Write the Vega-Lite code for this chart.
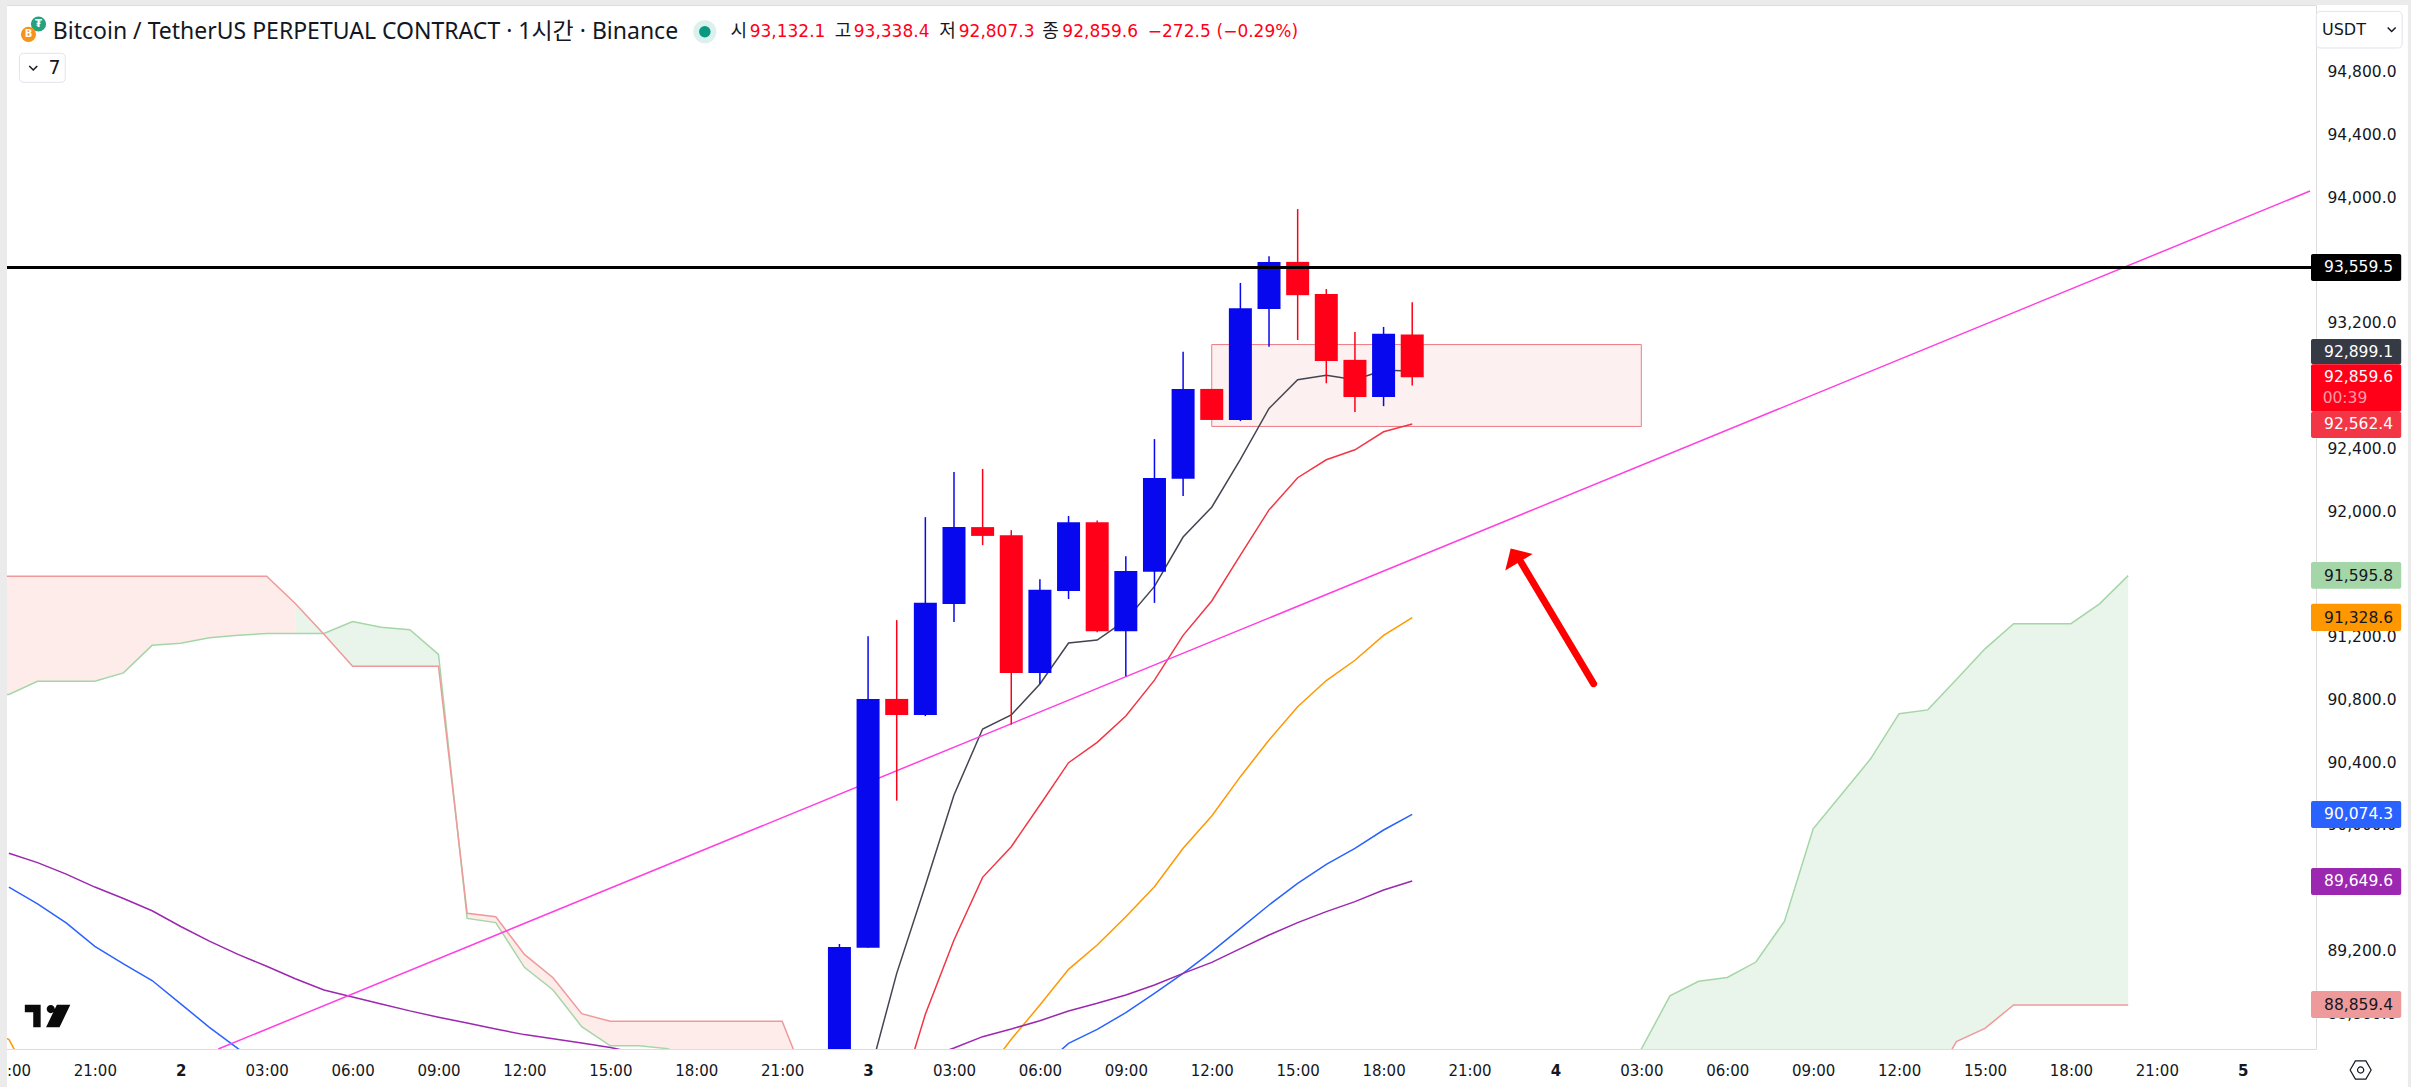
{
  "$schema": "https://vega.github.io/schema/vega-lite/v6.json",
  "width": 2314,
  "height": 1044,
  "padding": {"left": 2, "top": 5, "right": 95, "bottom": 38},
  "autosize": "none",
  "background": "#ffffff",
  "resolve": {"scale": {"color": "independent", "size": "independent", "strokeWidth": "independent"}},
  "datasets": {
    "bands": [
      {"x0": "2025-12-01T17:00:00Z", "x1": "2025-12-01T17:56:00Z", "top": 95290, "bottom": 88300},
      {"x0": "2025-12-01T17:00:00Z", "x1": "2025-12-05T07:00:00Z", "top": 95290, "bottom": 95232.5},
      {"x0": "2025-12-05T05:46:00Z", "x1": "2025-12-05T07:00:00Z", "top": 95290, "bottom": 88300}
    ],
    "cloud": [
      {"time": "2025-12-01T17:00:00Z", "a": 90837.8, "b": 91591.5, "seg": "r1", "side": "red"},
      {"time": "2025-12-01T18:00:00Z", "a": 90837.8, "b": 91591.5, "seg": "r1", "side": "red"},
      {"time": "2025-12-01T19:00:00Z", "a": 90922.3, "b": 91591.5, "seg": "r1", "side": "red"},
      {"time": "2025-12-01T20:00:00Z", "a": 90922.3, "b": 91591.5, "seg": "r1", "side": "red"},
      {"time": "2025-12-01T21:00:00Z", "a": 90922.3, "b": 91591.5, "seg": "r1", "side": "red"},
      {"time": "2025-12-01T22:00:00Z", "a": 90975.7, "b": 91591.5, "seg": "r1", "side": "red"},
      {"time": "2025-12-01T23:00:00Z", "a": 91151.3, "b": 91591.5, "seg": "r1", "side": "red"},
      {"time": "2025-12-02T00:00:00Z", "a": 91164.6, "b": 91591.5, "seg": "r1", "side": "red"},
      {"time": "2025-12-02T01:00:00Z", "a": 91200.2, "b": 91591.5, "seg": "r1", "side": "red"},
      {"time": "2025-12-02T02:00:00Z", "a": 91215.8, "b": 91591.5, "seg": "r1", "side": "red"},
      {"time": "2025-12-02T03:00:00Z", "a": 91226.9, "b": 91591.5, "seg": "r1", "side": "red"},
      {"time": "2025-12-02T04:00:00Z", "a": 91226.9, "b": 91418, "seg": "r1", "side": "red"},
      {"time": "2025-12-02T04:00:00Z", "a": 91226.9, "b": 91418, "seg": "g1", "side": "green"},
      {"time": "2025-12-02T05:00:00Z", "a": 91226.9, "b": 91222.5, "seg": "g1", "side": "green"},
      {"time": "2025-12-02T06:00:00Z", "a": 91302.5, "b": 91017.9, "seg": "g1", "side": "green"},
      {"time": "2025-12-02T07:00:00Z", "a": 91266.9, "b": 91017.9, "seg": "g1", "side": "green"},
      {"time": "2025-12-02T08:00:00Z", "a": 91251.4, "b": 91017.9, "seg": "g1", "side": "green"},
      {"time": "2025-12-02T09:00:00Z", "a": 91093.5, "b": 91017.9, "seg": "g1", "side": "green"},
      {"time": "2025-12-02T10:00:00Z", "a": 89410.6, "b": 89444, "seg": "r2", "side": "red"},
      {"time": "2025-12-02T11:00:00Z", "a": 89384, "b": 89421.8, "seg": "r2", "side": "red"},
      {"time": "2025-12-02T12:00:00Z", "a": 89099.4, "b": 89181.7, "seg": "r2", "side": "red"},
      {"time": "2025-12-02T13:00:00Z", "a": 88954.9, "b": 89032.7, "seg": "r2", "side": "red"},
      {"time": "2025-12-02T14:00:00Z", "a": 88721.4, "b": 88803.8, "seg": "r2", "side": "red"},
      {"time": "2025-12-02T15:00:00Z", "a": 88599, "b": 88754.9, "seg": "r2", "side": "red"},
      {"time": "2025-12-02T16:00:00Z", "a": 88599, "b": 88754.9, "seg": "r2", "side": "red"},
      {"time": "2025-12-02T17:00:00Z", "a": 88581, "b": 88754.9, "seg": "r2", "side": "red"},
      {"time": "2025-12-02T18:00:00Z", "a": 88500, "b": 88754.9, "seg": "r2", "side": "red"},
      {"time": "2025-12-02T19:00:00Z", "a": 88450, "b": 88754.9, "seg": "r2", "side": "red"},
      {"time": "2025-12-02T20:00:00Z", "a": 88400, "b": 88754.9, "seg": "r2", "side": "red"},
      {"time": "2025-12-02T21:00:00Z", "a": 88350, "b": 88754.9, "seg": "r2", "side": "red"},
      {"time": "2025-12-02T22:00:00Z", "a": 88300, "b": 88300, "seg": "r2", "side": "red"},
      {"time": "2025-12-04T02:00:00Z", "a": 88350, "b": 88000, "seg": "g2", "side": "green"},
      {"time": "2025-12-04T03:00:00Z", "a": 88578.6, "b": 88000, "seg": "g2", "side": "green"},
      {"time": "2025-12-04T04:00:00Z", "a": 88917, "b": 88050, "seg": "g2", "side": "green"},
      {"time": "2025-12-04T05:00:00Z", "a": 89010.5, "b": 88050, "seg": "g2", "side": "green"},
      {"time": "2025-12-04T06:00:00Z", "a": 89034.9, "b": 88050, "seg": "g2", "side": "green"},
      {"time": "2025-12-04T07:00:00Z", "a": 89132.8, "b": 88100, "seg": "g2", "side": "green"},
      {"time": "2025-12-04T08:00:00Z", "a": 89392.9, "b": 88100, "seg": "g2", "side": "green"},
      {"time": "2025-12-04T09:00:00Z", "a": 89982, "b": 88100, "seg": "g2", "side": "green"},
      {"time": "2025-12-04T10:00:00Z", "a": 90204.3, "b": 88100, "seg": "g2", "side": "green"},
      {"time": "2025-12-04T11:00:00Z", "a": 90426.6, "b": 88150, "seg": "g2", "side": "green"},
      {"time": "2025-12-04T12:00:00Z", "a": 90715.6, "b": 88200, "seg": "g2", "side": "green"},
      {"time": "2025-12-04T13:00:00Z", "a": 90740, "b": 88300, "seg": "g2", "side": "green"},
      {"time": "2025-12-04T14:00:00Z", "a": 90933.4, "b": 88626, "seg": "g2", "side": "green"},
      {"time": "2025-12-04T15:00:00Z", "a": 91129, "b": 88710.3, "seg": "g2", "side": "green"},
      {"time": "2025-12-04T16:00:00Z", "a": 91289.2, "b": 88859.4, "seg": "g2", "side": "green"},
      {"time": "2025-12-04T17:00:00Z", "a": 91289.2, "b": 88859.4, "seg": "g2", "side": "green"},
      {"time": "2025-12-04T18:00:00Z", "a": 91289.2, "b": 88859.4, "seg": "g2", "side": "green"},
      {"time": "2025-12-04T19:00:00Z", "a": 91415.9, "b": 88859.4, "seg": "g2", "side": "green"},
      {"time": "2025-12-04T20:00:00Z", "a": 91595.8, "b": 88859.4, "seg": "g2", "side": "green"}
    ],
    "spanLines": [
      {"time": "2025-12-01T17:00:00Z", "price": 90837.8, "series": "spanA", "part": "a1"},
      {"time": "2025-12-01T18:00:00Z", "price": 90837.8, "series": "spanA", "part": "a1"},
      {"time": "2025-12-01T19:00:00Z", "price": 90922.3, "series": "spanA", "part": "a1"},
      {"time": "2025-12-01T21:00:00Z", "price": 90922.3, "series": "spanA", "part": "a1"},
      {"time": "2025-12-01T22:00:00Z", "price": 90975.7, "series": "spanA", "part": "a1"},
      {"time": "2025-12-01T23:00:00Z", "price": 91151.3, "series": "spanA", "part": "a1"},
      {"time": "2025-12-02T00:00:00Z", "price": 91164.6, "series": "spanA", "part": "a1"},
      {"time": "2025-12-02T01:00:00Z", "price": 91200.2, "series": "spanA", "part": "a1"},
      {"time": "2025-12-02T02:00:00Z", "price": 91215.8, "series": "spanA", "part": "a1"},
      {"time": "2025-12-02T03:00:00Z", "price": 91226.9, "series": "spanA", "part": "a1"},
      {"time": "2025-12-02T05:00:00Z", "price": 91226.9, "series": "spanA", "part": "a1"},
      {"time": "2025-12-02T06:00:00Z", "price": 91302.5, "series": "spanA", "part": "a1"},
      {"time": "2025-12-02T07:00:00Z", "price": 91266.9, "series": "spanA", "part": "a1"},
      {"time": "2025-12-02T08:00:00Z", "price": 91251.4, "series": "spanA", "part": "a1"},
      {"time": "2025-12-02T09:00:00Z", "price": 91093.5, "series": "spanA", "part": "a1"},
      {"time": "2025-12-02T10:00:00Z", "price": 89410.6, "series": "spanA", "part": "a1"},
      {"time": "2025-12-02T11:00:00Z", "price": 89384, "series": "spanA", "part": "a1"},
      {"time": "2025-12-02T12:00:00Z", "price": 89099.4, "series": "spanA", "part": "a1"},
      {"time": "2025-12-02T13:00:00Z", "price": 88954.9, "series": "spanA", "part": "a1"},
      {"time": "2025-12-02T14:00:00Z", "price": 88721.4, "series": "spanA", "part": "a1"},
      {"time": "2025-12-02T15:00:00Z", "price": 88599, "series": "spanA", "part": "a1"},
      {"time": "2025-12-02T16:00:00Z", "price": 88599, "series": "spanA", "part": "a1"},
      {"time": "2025-12-02T17:00:00Z", "price": 88581, "series": "spanA", "part": "a1"},
      {"time": "2025-12-02T18:00:00Z", "price": 88500, "series": "spanA", "part": "a1"},
      {"time": "2025-12-04T02:00:00Z", "price": 88350, "series": "spanA", "part": "a2"},
      {"time": "2025-12-04T03:00:00Z", "price": 88578.6, "series": "spanA", "part": "a2"},
      {"time": "2025-12-04T04:00:00Z", "price": 88917, "series": "spanA", "part": "a2"},
      {"time": "2025-12-04T05:00:00Z", "price": 89010.5, "series": "spanA", "part": "a2"},
      {"time": "2025-12-04T06:00:00Z", "price": 89034.9, "series": "spanA", "part": "a2"},
      {"time": "2025-12-04T07:00:00Z", "price": 89132.8, "series": "spanA", "part": "a2"},
      {"time": "2025-12-04T08:00:00Z", "price": 89392.9, "series": "spanA", "part": "a2"},
      {"time": "2025-12-04T09:00:00Z", "price": 89982, "series": "spanA", "part": "a2"},
      {"time": "2025-12-04T10:00:00Z", "price": 90204.3, "series": "spanA", "part": "a2"},
      {"time": "2025-12-04T11:00:00Z", "price": 90426.6, "series": "spanA", "part": "a2"},
      {"time": "2025-12-04T12:00:00Z", "price": 90715.6, "series": "spanA", "part": "a2"},
      {"time": "2025-12-04T13:00:00Z", "price": 90740, "series": "spanA", "part": "a2"},
      {"time": "2025-12-04T14:00:00Z", "price": 90933.4, "series": "spanA", "part": "a2"},
      {"time": "2025-12-04T15:00:00Z", "price": 91129, "series": "spanA", "part": "a2"},
      {"time": "2025-12-04T16:00:00Z", "price": 91289.2, "series": "spanA", "part": "a2"},
      {"time": "2025-12-04T18:00:00Z", "price": 91289.2, "series": "spanA", "part": "a2"},
      {"time": "2025-12-04T19:00:00Z", "price": 91415.9, "series": "spanA", "part": "a2"},
      {"time": "2025-12-04T20:00:00Z", "price": 91595.8, "series": "spanA", "part": "a2"},
      {"time": "2025-12-01T17:00:00Z", "price": 91591.5, "series": "spanB", "part": "b1"},
      {"time": "2025-12-02T03:00:00Z", "price": 91591.5, "series": "spanB", "part": "b1"},
      {"time": "2025-12-02T04:00:00Z", "price": 91418, "series": "spanB", "part": "b1"},
      {"time": "2025-12-02T05:00:00Z", "price": 91222.5, "series": "spanB", "part": "b1"},
      {"time": "2025-12-02T06:00:00Z", "price": 91017.9, "series": "spanB", "part": "b1"},
      {"time": "2025-12-02T09:00:00Z", "price": 91017.9, "series": "spanB", "part": "b1"},
      {"time": "2025-12-02T10:00:00Z", "price": 89444, "series": "spanB", "part": "b1"},
      {"time": "2025-12-02T11:00:00Z", "price": 89421.8, "series": "spanB", "part": "b1"},
      {"time": "2025-12-02T12:00:00Z", "price": 89181.7, "series": "spanB", "part": "b1"},
      {"time": "2025-12-02T13:00:00Z", "price": 89032.7, "series": "spanB", "part": "b1"},
      {"time": "2025-12-02T14:00:00Z", "price": 88803.8, "series": "spanB", "part": "b1"},
      {"time": "2025-12-02T15:00:00Z", "price": 88754.9, "series": "spanB", "part": "b1"},
      {"time": "2025-12-02T21:00:00Z", "price": 88754.9, "series": "spanB", "part": "b1"},
      {"time": "2025-12-02T22:00:00Z", "price": 88300, "series": "spanB", "part": "b1"},
      {"time": "2025-12-04T13:00:00Z", "price": 88300, "series": "spanB", "part": "b2"},
      {"time": "2025-12-04T14:00:00Z", "price": 88626, "series": "spanB", "part": "b2"},
      {"time": "2025-12-04T15:00:00Z", "price": 88710.3, "series": "spanB", "part": "b2"},
      {"time": "2025-12-04T16:00:00Z", "price": 88859.4, "series": "spanB", "part": "b2"},
      {"time": "2025-12-04T20:00:00Z", "price": 88859.4, "series": "spanB", "part": "b2"}
    ],
    "maLines": [
      {"time": "2025-12-03T00:00:00Z", "price": 88380, "series": "ma7"},
      {"time": "2025-12-03T01:00:00Z", "price": 89060.8, "series": "ma7"},
      {"time": "2025-12-03T02:00:00Z", "price": 89620, "series": "ma7"},
      {"time": "2025-12-03T03:00:00Z", "price": 90197.4, "series": "ma7"},
      {"time": "2025-12-03T04:00:00Z", "price": 90618.1, "series": "ma7"},
      {"time": "2025-12-03T05:00:00Z", "price": 90707.3, "series": "ma7"},
      {"time": "2025-12-03T06:00:00Z", "price": 90904.9, "series": "ma7"},
      {"time": "2025-12-03T07:00:00Z", "price": 91165.9, "series": "ma7"},
      {"time": "2025-12-03T08:00:00Z", "price": 91185.4, "series": "ma7"},
      {"time": "2025-12-03T09:00:00Z", "price": 91312, "series": "ma7"},
      {"time": "2025-12-03T10:00:00Z", "price": 91527, "series": "ma7"},
      {"time": "2025-12-03T11:00:00Z", "price": 91841.6, "series": "ma7"},
      {"time": "2025-12-03T12:00:00Z", "price": 92031.8, "series": "ma7"},
      {"time": "2025-12-03T13:00:00Z", "price": 92336.7, "series": "ma7"},
      {"time": "2025-12-03T14:00:00Z", "price": 92661.1, "series": "ma7"},
      {"time": "2025-12-03T15:00:00Z", "price": 92844, "series": "ma7"},
      {"time": "2025-12-03T16:00:00Z", "price": 92873.3, "series": "ma7"},
      {"time": "2025-12-03T17:00:00Z", "price": 92844, "series": "ma7"},
      {"time": "2025-12-03T18:00:00Z", "price": 92905, "series": "ma7"},
      {"time": "2025-12-03T19:00:00Z", "price": 92899.1, "series": "ma7"},
      {"time": "2025-12-03T01:00:00Z", "price": 88200, "series": "ma25"},
      {"time": "2025-12-03T02:00:00Z", "price": 88800, "series": "ma25"},
      {"time": "2025-12-03T03:00:00Z", "price": 89273.3, "series": "ma25"},
      {"time": "2025-12-03T04:00:00Z", "price": 89672.7, "series": "ma25"},
      {"time": "2025-12-03T05:00:00Z", "price": 89868.2, "series": "ma25"},
      {"time": "2025-12-03T06:00:00Z", "price": 90133.7, "series": "ma25"},
      {"time": "2025-12-03T07:00:00Z", "price": 90403.5, "series": "ma25"},
      {"time": "2025-12-03T08:00:00Z", "price": 90533.1, "series": "ma25"},
      {"time": "2025-12-03T09:00:00Z", "price": 90701, "series": "ma25"},
      {"time": "2025-12-03T10:00:00Z", "price": 90929.4, "series": "ma25"},
      {"time": "2025-12-03T11:00:00Z", "price": 91214.7, "series": "ma25"},
      {"time": "2025-12-03T12:00:00Z", "price": 91434.2, "series": "ma25"},
      {"time": "2025-12-03T13:00:00Z", "price": 91726.9, "series": "ma25"},
      {"time": "2025-12-03T14:00:00Z", "price": 92014.7, "series": "ma25"},
      {"time": "2025-12-03T15:00:00Z", "price": 92219.6, "series": "ma25"},
      {"time": "2025-12-03T16:00:00Z", "price": 92334.2, "series": "ma25"},
      {"time": "2025-12-03T17:00:00Z", "price": 92397.7, "series": "ma25"},
      {"time": "2025-12-03T18:00:00Z", "price": 92512.3, "series": "ma25"},
      {"time": "2025-12-03T19:00:00Z", "price": 92562.4, "series": "ma25"},
      {"time": "2025-12-01T17:00:00Z", "price": 88700, "series": "ma50"},
      {"time": "2025-12-01T18:00:00Z", "price": 88640, "series": "ma50"},
      {"time": "2025-12-01T19:00:00Z", "price": 88300, "series": "ma50"},
      {"time": "2025-12-03T04:00:00Z", "price": 88400, "series": "ma50"},
      {"time": "2025-12-03T05:00:00Z", "price": 88640.2, "series": "ma50"},
      {"time": "2025-12-03T06:00:00Z", "price": 88859, "series": "ma50"},
      {"time": "2025-12-03T07:00:00Z", "price": 89086.3, "series": "ma50"},
      {"time": "2025-12-03T08:00:00Z", "price": 89241.4, "series": "ma50"},
      {"time": "2025-12-03T09:00:00Z", "price": 89422, "series": "ma50"},
      {"time": "2025-12-03T10:00:00Z", "price": 89613.2, "series": "ma50"},
      {"time": "2025-12-03T11:00:00Z", "price": 89857.5, "series": "ma50"},
      {"time": "2025-12-03T12:00:00Z", "price": 90063.6, "series": "ma50"},
      {"time": "2025-12-03T13:00:00Z", "price": 90314.3, "series": "ma50"},
      {"time": "2025-12-03T14:00:00Z", "price": 90548, "series": "ma50"},
      {"time": "2025-12-03T15:00:00Z", "price": 90760.4, "series": "ma50"},
      {"time": "2025-12-03T16:00:00Z", "price": 90926.8, "series": "ma50"},
      {"time": "2025-12-03T17:00:00Z", "price": 91056.2, "series": "ma50"},
      {"time": "2025-12-03T18:00:00Z", "price": 91214.7, "series": "ma50"},
      {"time": "2025-12-03T19:00:00Z", "price": 91328.6, "series": "ma50"},
      {"time": "2025-12-01T18:00:00Z", "price": 89610.7, "series": "ma100"},
      {"time": "2025-12-01T19:00:00Z", "price": 89504, "series": "ma100"},
      {"time": "2025-12-01T20:00:00Z", "price": 89381.8, "series": "ma100"},
      {"time": "2025-12-01T21:00:00Z", "price": 89232.8, "series": "ma100"},
      {"time": "2025-12-01T22:00:00Z", "price": 89121.6, "series": "ma100"},
      {"time": "2025-12-01T23:00:00Z", "price": 89015, "series": "ma100"},
      {"time": "2025-12-02T00:00:00Z", "price": 88866, "series": "ma100"},
      {"time": "2025-12-02T01:00:00Z", "price": 88717, "series": "ma100"},
      {"time": "2025-12-02T02:00:00Z", "price": 88581, "series": "ma100"},
      {"time": "2025-12-02T03:00:00Z", "price": 88450, "series": "ma100"},
      {"time": "2025-12-03T06:00:00Z", "price": 88450, "series": "ma100"},
      {"time": "2025-12-03T07:00:00Z", "price": 88614.7, "series": "ma100"},
      {"time": "2025-12-03T08:00:00Z", "price": 88703.9, "series": "ma100"},
      {"time": "2025-12-03T09:00:00Z", "price": 88810.2, "series": "ma100"},
      {"time": "2025-12-03T10:00:00Z", "price": 88933.4, "series": "ma100"},
      {"time": "2025-12-03T11:00:00Z", "price": 89060.8, "series": "ma100"},
      {"time": "2025-12-03T12:00:00Z", "price": 89198.9, "series": "ma100"},
      {"time": "2025-12-03T13:00:00Z", "price": 89347.6, "series": "ma100"},
      {"time": "2025-12-03T14:00:00Z", "price": 89496.4, "series": "ma100"},
      {"time": "2025-12-03T15:00:00Z", "price": 89634.4, "series": "ma100"},
      {"time": "2025-12-03T16:00:00Z", "price": 89755.6, "series": "ma100"},
      {"time": "2025-12-03T17:00:00Z", "price": 89857.5, "series": "ma100"},
      {"time": "2025-12-03T18:00:00Z", "price": 89974.4, "series": "ma100"},
      {"time": "2025-12-03T19:00:00Z", "price": 90074.3, "series": "ma100"},
      {"time": "2025-12-01T18:00:00Z", "price": 89826.4, "series": "ma200"},
      {"time": "2025-12-01T19:00:00Z", "price": 89766.4, "series": "ma200"},
      {"time": "2025-12-01T20:00:00Z", "price": 89693, "series": "ma200"},
      {"time": "2025-12-01T21:00:00Z", "price": 89610.7, "series": "ma200"},
      {"time": "2025-12-01T22:00:00Z", "price": 89537.4, "series": "ma200"},
      {"time": "2025-12-01T23:00:00Z", "price": 89459.5, "series": "ma200"},
      {"time": "2025-12-02T00:00:00Z", "price": 89359.4, "series": "ma200"},
      {"time": "2025-12-02T01:00:00Z", "price": 89266, "series": "ma200"},
      {"time": "2025-12-02T02:00:00Z", "price": 89181.7, "series": "ma200"},
      {"time": "2025-12-02T03:00:00Z", "price": 89106, "series": "ma200"},
      {"time": "2025-12-02T04:00:00Z", "price": 89026, "series": "ma200"},
      {"time": "2025-12-02T05:00:00Z", "price": 88954.9, "series": "ma200"},
      {"time": "2025-12-02T06:00:00Z", "price": 88910.5, "series": "ma200"},
      {"time": "2025-12-02T07:00:00Z", "price": 88866, "series": "ma200"},
      {"time": "2025-12-02T08:00:00Z", "price": 88821.6, "series": "ma200"},
      {"time": "2025-12-02T09:00:00Z", "price": 88781.5, "series": "ma200"},
      {"time": "2025-12-02T10:00:00Z", "price": 88743.7, "series": "ma200"},
      {"time": "2025-12-02T11:00:00Z", "price": 88706, "series": "ma200"},
      {"time": "2025-12-02T12:00:00Z", "price": 88670.3, "series": "ma200"},
      {"time": "2025-12-02T13:00:00Z", "price": 88643.6, "series": "ma200"},
      {"time": "2025-12-02T14:00:00Z", "price": 88617, "series": "ma200"},
      {"time": "2025-12-02T15:00:00Z", "price": 88588, "series": "ma200"},
      {"time": "2025-12-02T16:00:00Z", "price": 88550, "series": "ma200"},
      {"time": "2025-12-02T20:00:00Z", "price": 88450, "series": "ma200"},
      {"time": "2025-12-03T00:00:00Z", "price": 88480, "series": "ma200"},
      {"time": "2025-12-03T02:00:00Z", "price": 88520, "series": "ma200"},
      {"time": "2025-12-03T03:00:00Z", "price": 88585, "series": "ma200"},
      {"time": "2025-12-03T04:00:00Z", "price": 88657.2, "series": "ma200"},
      {"time": "2025-12-03T05:00:00Z", "price": 88706, "series": "ma200"},
      {"time": "2025-12-03T06:00:00Z", "price": 88759.2, "series": "ma200"},
      {"time": "2025-12-03T07:00:00Z", "price": 88820.8, "series": "ma200"},
      {"time": "2025-12-03T08:00:00Z", "price": 88869.6, "series": "ma200"},
      {"time": "2025-12-03T09:00:00Z", "price": 88922.8, "series": "ma200"},
      {"time": "2025-12-03T10:00:00Z", "price": 88986.4, "series": "ma200"},
      {"time": "2025-12-03T11:00:00Z", "price": 89060.8, "series": "ma200"},
      {"time": "2025-12-03T12:00:00Z", "price": 89130.9, "series": "ma200"},
      {"time": "2025-12-03T13:00:00Z", "price": 89218, "series": "ma200"},
      {"time": "2025-12-03T14:00:00Z", "price": 89305.1, "series": "ma200"},
      {"time": "2025-12-03T15:00:00Z", "price": 89383.8, "series": "ma200"},
      {"time": "2025-12-03T16:00:00Z", "price": 89453.9, "series": "ma200"},
      {"time": "2025-12-03T17:00:00Z", "price": 89517.6, "series": "ma200"},
      {"time": "2025-12-03T18:00:00Z", "price": 89592, "series": "ma200"},
      {"time": "2025-12-03T19:00:00Z", "price": 89649.6, "series": "ma200"},
      {"time": "2025-12-02T01:18:36Z", "price": 88578.6, "series": "trend"},
      {"time": "2025-12-05T02:21:00Z", "price": 94047, "series": "trend"}
    ],
    "candles": [
      {"time": "2025-12-02T23:00:00Z", "open": 88300, "close": 89228.7, "high": 89247.8, "low": 88200, "dir": "up"},
      {"time": "2025-12-03T00:00:00Z", "open": 89224, "close": 90809.8, "high": 91209.8, "low": 89224, "dir": "up"},
      {"time": "2025-12-03T01:00:00Z", "open": 90809.8, "close": 90707.4, "high": 91312.2, "low": 90161.3, "dir": "down"},
      {"time": "2025-12-03T02:00:00Z", "open": 90707.4, "close": 91422, "high": 91968.4, "low": 90700, "dir": "up"},
      {"time": "2025-12-03T03:00:00Z", "open": 91414.7, "close": 91904.9, "high": 92256.2, "low": 91300, "dir": "up"},
      {"time": "2025-12-03T04:00:00Z", "open": 91904.9, "close": 91848.8, "high": 92275.7, "low": 91790.3, "dir": "down"},
      {"time": "2025-12-03T05:00:00Z", "open": 91853.7, "close": 90975.6, "high": 91885.4, "low": 90646.4, "dir": "down"},
      {"time": "2025-12-03T06:00:00Z", "open": 90975.6, "close": 91504.9, "high": 91573.2, "low": 90904.9, "dir": "up"},
      {"time": "2025-12-03T07:00:00Z", "open": 91497.6, "close": 91936.6, "high": 91975.7, "low": 91446.4, "dir": "up"},
      {"time": "2025-12-03T08:00:00Z", "open": 91936.6, "close": 91241.5, "high": 91946.4, "low": 91234, "dir": "down"},
      {"time": "2025-12-03T09:00:00Z", "open": 91241.5, "close": 91624.4, "high": 91719.6, "low": 90953.6, "dir": "up"},
      {"time": "2025-12-03T10:00:00Z", "open": 91619.6, "close": 92217.1, "high": 92465.9, "low": 91422, "dir": "up"},
      {"time": "2025-12-03T11:00:00Z", "open": 92212.3, "close": 92785.5, "high": 93022, "low": 92102.5, "dir": "up"},
      {"time": "2025-12-03T12:00:00Z", "open": 92785.5, "close": 92587.9, "high": 92785.5, "low": 92587.9, "dir": "down"},
      {"time": "2025-12-03T13:00:00Z", "open": 92587.9, "close": 93300.1, "high": 93461.1, "low": 92580.6, "dir": "up"},
      {"time": "2025-12-03T14:00:00Z", "open": 93295.2, "close": 93595.2, "high": 93631.8, "low": 93053.8, "dir": "up"},
      {"time": "2025-12-03T15:00:00Z", "open": 93595.2, "close": 93383, "high": 93931.8, "low": 93097.6, "dir": "down"},
      {"time": "2025-12-03T16:00:00Z", "open": 93390.3, "close": 92963.5, "high": 93422, "low": 92822, "dir": "down"},
      {"time": "2025-12-03T17:00:00Z", "open": 92970.8, "close": 92734.2, "high": 93148.9, "low": 92639.1, "dir": "down"},
      {"time": "2025-12-03T18:00:00Z", "open": 92734.2, "close": 93136.7, "high": 93180.6, "low": 92675.7, "dir": "up"},
      {"time": "2025-12-03T19:00:00Z", "open": 93132.1, "close": 92859.6, "high": 93338.4, "low": 92807.3, "dir": "down"}
    ],
    "zone": [{"x0": "2025-12-03T12:00:00Z", "x1": "2025-12-04T03:00:00Z", "top": 93068.4, "bottom": 92546.4}],
    "level": [{"price": 93559.5}],
    "arrowShaft": [
      {"time": "2025-12-04T01:20:00Z", "price": 90906.9},
      {"time": "2025-12-03T22:48:00Z", "price": 91680.6}
    ],
    "arrowHead": [{"time": "2025-12-03T22:35:00Z", "price": 91725.2}],
    "priceTags": [
      {"name": "level", "x0": "2025-12-05T02:23:00Z", "x1": "2025-12-05T05:32:00Z", "top": 93646.2, "bottom": 93472.8},
      {"name": "ma7", "x0": "2025-12-05T02:23:00Z", "x1": "2025-12-05T05:32:00Z", "top": 93103.8, "bottom": 92942.5},
      {"name": "last", "x0": "2025-12-05T02:23:00Z", "x1": "2025-12-05T05:32:00Z", "top": 92942.5, "bottom": 92639.8},
      {"name": "ma25", "x0": "2025-12-05T02:23:00Z", "x1": "2025-12-05T05:32:00Z", "top": 92639.8, "bottom": 92473.4},
      {"name": "spanA", "x0": "2025-12-05T02:23:00Z", "x1": "2025-12-05T05:32:00Z", "top": 91682.5, "bottom": 91511.7},
      {"name": "ma50", "x0": "2025-12-05T02:23:00Z", "x1": "2025-12-05T05:32:00Z", "top": 91416.1, "bottom": 91242.7},
      {"name": "ma100", "x0": "2025-12-05T02:23:00Z", "x1": "2025-12-05T05:32:00Z", "top": 90159.9, "bottom": 89986.5},
      {"name": "ma200", "x0": "2025-12-05T02:23:00Z", "x1": "2025-12-05T05:32:00Z", "top": 89732.8, "bottom": 89559.4},
      {"name": "spanB", "x0": "2025-12-05T02:23:00Z", "x1": "2025-12-05T05:32:00Z", "top": 88948.2, "bottom": 88776.8}
    ],
    "priceTagText": [
      {"time": "2025-12-05T05:15:00Z", "label": "93,559.5", "at": 93559.5, "ink": "light"},
      {"time": "2025-12-05T05:15:00Z", "label": "92,899.1", "at": 93023.5, "ink": "light"},
      {"time": "2025-12-05T05:15:00Z", "label": "92,859.6", "at": 92862.9, "ink": "light"},
      {"time": "2025-12-05T04:21:00Z", "label": "00:39", "at": 92726.5, "ink": "soft"},
      {"time": "2025-12-05T05:15:00Z", "label": "92,562.4", "at": 92562.4, "ink": "light"},
      {"time": "2025-12-05T05:15:00Z", "label": "91,595.8", "at": 91595.8, "ink": "dark"},
      {"time": "2025-12-05T05:15:00Z", "label": "91,328.6", "at": 91328.6, "ink": "dark"},
      {"time": "2025-12-05T05:15:00Z", "label": "90,074.3", "at": 90074.3, "ink": "light"},
      {"time": "2025-12-05T05:15:00Z", "label": "89,649.6", "at": 89649.6, "ink": "light"},
      {"time": "2025-12-05T05:15:00Z", "label": "88,859.4", "at": 88859.4, "ink": "dark"}
    ],
    "titleText": [
      {"time": "2025-12-01T19:32:00Z", "price": 95062, "text": "Bitcoin / TetherUS PERPETUAL CONTRACT · 1시간 · Binance"}
    ],
    "headerText": [
      {"time": "2025-12-02T19:12:00Z", "price": 95062, "text": "시", "kind": "ohlcKey"},
      {"time": "2025-12-02T19:52:00Z", "price": 95062, "text": "93,132.1", "kind": "ohlcValue"},
      {"time": "2025-12-02T22:50:00Z", "price": 95062, "text": "고", "kind": "ohlcKey"},
      {"time": "2025-12-02T23:30:00Z", "price": 95062, "text": "93,338.4", "kind": "ohlcValue"},
      {"time": "2025-12-03T02:29:00Z", "price": 95062, "text": "저", "kind": "ohlcKey"},
      {"time": "2025-12-03T03:10:00Z", "price": 95062, "text": "92,807.3", "kind": "ohlcValue"},
      {"time": "2025-12-03T06:05:00Z", "price": 95062, "text": "종", "kind": "ohlcKey"},
      {"time": "2025-12-03T06:47:00Z", "price": 95062, "text": "92,859.6", "kind": "ohlcValue"},
      {"time": "2025-12-03T09:46:00Z", "price": 95062, "text": "−272.5", "kind": "ohlcValue"},
      {"time": "2025-12-03T12:10:00Z", "price": 95062, "text": "(−0.29%)", "kind": "ohlcValue"},
      {"time": "2025-12-01T19:23:00Z", "price": 94831, "text": "7", "kind": "count"},
      {"time": "2025-12-05T02:46:00Z", "price": 95073, "text": "USDT", "kind": "unit"}
    ],
    "buttons": [
      {"x0": "2025-12-01T18:22:00Z", "x1": "2025-12-01T19:58:00Z", "top": 94924.7, "bottom": 94739.7},
      {"x0": "2025-12-05T02:34:00Z", "x1": "2025-12-05T05:34:00Z", "top": 95191.8, "bottom": 94958.5}
    ],
    "chevrons": [
      {"time": "2025-12-01T18:51:00Z", "price": 94831},
      {"time": "2025-12-05T05:12:00Z", "price": 95076}
    ],
    "statusDot": [{"time": "2025-12-02T18:18:00Z", "price": 95062}],
    "logoCoins": [
      {"time": "2025-12-01T19:02:00Z", "price": 95111.4, "coin": "tether", "glyph": "₮"},
      {"time": "2025-12-01T18:41:00Z", "price": 95045.8, "coin": "bitcoin", "glyph": "B"}
    ],
    "gear": [{"time": "2025-12-05T04:07:00Z", "price": 88444.7}],
    "watermark": [{"time": "2025-12-01T19:21:00Z", "price": 88788.9}]
  },
  "layer": [
    {
      "data": {"name": "cloud"},
      "mark": {"type": "area", "clip": true},
      "encoding": {
        "x": {
          "field": "time",
          "type": "temporal",
          "scale": {"type": "utc", "domain": ["2025-12-01T17:56:00Z", "2025-12-05T02:23:00Z"]},
          "title": null,
          "axis": {
            "orient": "bottom",
            "domain": false,
            "ticks": false,
            "grid": false,
            "title": null,
            "values": [
              "2025-12-01T18:00:00Z", "2025-12-01T21:00:00Z", "2025-12-02T00:00:00Z", "2025-12-02T03:00:00Z",
              "2025-12-02T06:00:00Z", "2025-12-02T09:00:00Z", "2025-12-02T12:00:00Z", "2025-12-02T15:00:00Z",
              "2025-12-02T18:00:00Z", "2025-12-02T21:00:00Z", "2025-12-03T00:00:00Z", "2025-12-03T03:00:00Z",
              "2025-12-03T06:00:00Z", "2025-12-03T09:00:00Z", "2025-12-03T12:00:00Z", "2025-12-03T15:00:00Z",
              "2025-12-03T18:00:00Z", "2025-12-03T21:00:00Z", "2025-12-04T00:00:00Z", "2025-12-04T03:00:00Z",
              "2025-12-04T06:00:00Z", "2025-12-04T09:00:00Z", "2025-12-04T12:00:00Z", "2025-12-04T15:00:00Z",
              "2025-12-04T18:00:00Z", "2025-12-04T21:00:00Z", "2025-12-05T00:00:00Z"
            ],
            "labelExpr": "utchours(datum.value) == 0 ? utcFormat(datum.value, '%-d') : utcFormat(datum.value, '%H:%M')",
            "labelFont": "DejaVu Sans",
            "labelFontSize": 15,
            "labelColor": "#131722",
            "labelFontWeight": {"condition": {"test": "utchours(datum.value) == 0", "value": "bold"}, "value": "normal"},
            "labelPadding": 14,
            "labelOverlap": false,
            "labelBound": false,
            "labelFlush": false
          }
        },
        "y": {
          "field": "a",
          "type": "quantitative",
          "scale": {"domain": [88578.6, 95232.5], "nice": false, "zero": false},
          "title": null,
          "axis": {
            "orient": "right",
            "domain": false,
            "ticks": false,
            "grid": false,
            "title": null,
            "values": [88800, 89200, 89600, 90000, 90400, 90800, 91200, 91600, 92000, 92400, 92800, 93200, 93600, 94000, 94400, 94800],
            "format": ",.1f",
            "labelFont": "DejaVu Sans",
            "labelFontSize": 15.5,
            "labelColor": "#131722",
            "labelAlign": "right",
            "labelPadding": 80,
            "labelOffset": -1,
            "labelOverlap": false,
            "labelBound": false,
            "labelFlush": false
          }
        },
        "y2": {"field": "b"},
        "detail": {"field": "seg"},
        "color": {"field": "side", "type": "nominal", "scale": {"domain": ["red", "green"], "range": ["#fdecea", "#e9f4ea"]}, "legend": null}
      }
    },
    {
      "data": {"name": "zone"},
      "mark": {"type": "rect", "fill": "#fcf0f0", "stroke": "#ee7c86", "strokeWidth": 1, "clip": true},
      "encoding": {
        "x": {"field": "x0", "type": "temporal"},
        "x2": {"field": "x1"},
        "y": {"field": "top", "type": "quantitative"},
        "y2": {"field": "bottom"}
      }
    },
    {
      "data": {"name": "spanLines"},
      "mark": {"type": "line", "clip": true, "strokeWidth": 1.5},
      "encoding": {
        "x": {"field": "time", "type": "temporal"},
        "y": {"field": "price", "type": "quantitative"},
        "detail": {"field": "part"},
        "color": {"field": "series", "type": "nominal", "scale": {"domain": ["spanA", "spanB"], "range": ["#a5d6a7", "#ef9a9a"]}, "legend": null}
      }
    },
    {
      "data": {"name": "maLines"},
      "mark": {"type": "line", "clip": true},
      "encoding": {
        "x": {"field": "time", "type": "temporal"},
        "y": {"field": "price", "type": "quantitative"},
        "color": {
          "field": "series",
          "type": "nominal",
          "scale": {"domain": ["ma7", "ma25", "ma50", "ma100", "ma200", "trend"], "range": ["#434651", "#f23645", "#ff9800", "#2962ff", "#9c27b0", "#ff40e0"]},
          "legend": null
        },
        "strokeWidth": {
          "field": "series",
          "type": "nominal",
          "scale": {"domain": ["ma7", "ma25", "ma50", "ma100", "ma200", "trend"], "range": [1.5, 1.5, 1.5, 1.5, 2, 1.2]},
          "legend": null
        }
      }
    },
    {
      "data": {"name": "candles"},
      "mark": {"type": "rule", "clip": true, "strokeWidth": 1.5},
      "encoding": {
        "x": {"field": "time", "type": "temporal"},
        "y": {"field": "low", "type": "quantitative"},
        "y2": {"field": "high"},
        "color": {"field": "dir", "type": "nominal", "scale": {"domain": ["up", "down"], "range": ["#0808ee", "#ff0018"]}, "legend": null}
      }
    },
    {
      "data": {"name": "candles"},
      "mark": {"type": "bar", "clip": true, "size": 23},
      "encoding": {
        "x": {"field": "time", "type": "temporal"},
        "y": {"field": "open", "type": "quantitative"},
        "y2": {"field": "close"},
        "color": {"field": "dir", "type": "nominal", "scale": {"domain": ["up", "down"], "range": ["#0808ee", "#ff0018"]}, "legend": null}
      }
    },
    {
      "data": {"name": "level"},
      "mark": {"type": "rule", "color": "#000000", "strokeWidth": 3},
      "encoding": {"y": {"field": "price", "type": "quantitative"}}
    },
    {
      "data": {"name": "arrowShaft"},
      "mark": {"type": "line", "color": "#ff0000", "strokeWidth": 7, "strokeCap": "round", "clip": true},
      "encoding": {
        "x": {"field": "time", "type": "temporal"},
        "y": {"field": "price", "type": "quantitative"}
      }
    },
    {
      "data": {"name": "arrowHead"},
      "mark": {"type": "point", "shape": "M0,-0.5L1,0.5L-1,0.5Z", "filled": true, "color": "#ff0000", "opacity": 1, "size": 1024, "angle": 329},
      "encoding": {
        "x": {"field": "time", "type": "temporal"},
        "y": {"field": "price", "type": "quantitative"}
      }
    },
    {
      "data": {"name": "watermark"},
      "mark": {"type": "point", "filled": true, "color": "#0a0a0a", "opacity": 1, "size": 8281, "clip": false,
        "shape": "M-0.5,-0.248L-0.152,-0.248L-0.152,0.248L-0.315,0.248L-0.315,-0.085L-0.5,-0.085ZM0.204,-0.248L0.5,-0.248L0.263,0.248L-0.033,0.248ZM0.07,-0.241A0.089,0.089 0 1 1 0.069,-0.241Z"},
      "encoding": {
        "x": {"field": "time", "type": "temporal"},
        "y": {"field": "price", "type": "quantitative"}
      }
    },
    {
      "data": {"name": "priceTags"},
      "mark": {"type": "rect", "cornerRadius": 2, "clip": false},
      "encoding": {
        "x": {"field": "x0", "type": "temporal"},
        "x2": {"field": "x1"},
        "y": {"field": "top", "type": "quantitative"},
        "y2": {"field": "bottom"},
        "color": {
          "field": "name",
          "type": "nominal",
          "scale": {
            "domain": ["level", "ma7", "last", "ma25", "spanA", "ma50", "ma100", "ma200", "spanB"],
            "range": ["#000000", "#363a45", "#ff0018", "#f23645", "#a5d6a7", "#ff9800", "#2962ff", "#9c27b0", "#ef9a9a"]
          },
          "legend": null
        }
      }
    },
    {
      "data": {"name": "priceTagText"},
      "mark": {"type": "text", "align": "right", "baseline": "middle", "font": "DejaVu Sans", "fontSize": 15.5, "clip": false},
      "encoding": {
        "x": {"field": "time", "type": "temporal"},
        "y": {"field": "at", "type": "quantitative"},
        "text": {"field": "label"},
        "color": {"field": "ink", "type": "nominal", "scale": {"domain": ["light", "soft", "dark"], "range": ["#ffffff", "#ff9aa5", "#131722"]}, "legend": null}
      }
    },
    {
      "data": {"name": "buttons"},
      "mark": {"type": "rect", "fill": "#ffffff", "stroke": "#e0e3eb", "strokeWidth": 1, "cornerRadius": 4, "clip": false},
      "encoding": {
        "x": {"field": "x0", "type": "temporal"},
        "x2": {"field": "x1"},
        "y": {"field": "top", "type": "quantitative"},
        "y2": {"field": "bottom"}
      }
    },
    {
      "data": {"name": "chevrons"},
      "mark": {"type": "point", "shape": "M-1,-0.5L0,0.5L1,-0.5", "filled": false, "stroke": "#131722", "strokeWidth": 1.5, "opacity": 1, "size": 64, "clip": false},
      "encoding": {
        "x": {"field": "time", "type": "temporal"},
        "y": {"field": "price", "type": "quantitative"}
      }
    },
    {
      "data": {"name": "statusDot"},
      "mark": {"type": "point", "shape": "circle", "filled": true, "color": "#dcf1ed", "opacity": 1, "size": 530, "clip": false},
      "encoding": {
        "x": {"field": "time", "type": "temporal"},
        "y": {"field": "price", "type": "quantitative"}
      }
    },
    {
      "data": {"name": "statusDot"},
      "mark": {"type": "point", "shape": "circle", "filled": true, "color": "#089981", "opacity": 1, "size": 133, "clip": false},
      "encoding": {
        "x": {"field": "time", "type": "temporal"},
        "y": {"field": "price", "type": "quantitative"}
      }
    },
    {
      "data": {"name": "logoCoins"},
      "mark": {"type": "point", "shape": "circle", "filled": true, "opacity": 1, "size": 230, "clip": false},
      "encoding": {
        "x": {"field": "time", "type": "temporal"},
        "y": {"field": "price", "type": "quantitative"},
        "color": {"field": "coin", "type": "nominal", "scale": {"domain": ["bitcoin", "tether"], "range": ["#f7931a", "#26a17b"]}, "legend": null}
      }
    },
    {
      "data": {"name": "logoCoins"},
      "mark": {"type": "text", "color": "#ffffff", "font": "DejaVu Sans", "fontWeight": "bold", "fontSize": 10, "align": "center", "baseline": "middle", "clip": false},
      "encoding": {
        "x": {"field": "time", "type": "temporal"},
        "y": {"field": "price", "type": "quantitative"},
        "text": {"field": "glyph"}
      }
    },
    {
      "data": {"name": "gear"},
      "mark": {"type": "point", "shape": "M-1,0L-0.5,-0.87L0.5,-0.87L1,0L0.5,0.87L-0.5,0.87Z", "filled": false, "stroke": "#131722", "strokeWidth": 1.2, "opacity": 1, "size": 441, "clip": false},
      "encoding": {
        "x": {"field": "time", "type": "temporal"},
        "y": {"field": "price", "type": "quantitative"}
      }
    },
    {
      "data": {"name": "gear"},
      "mark": {"type": "point", "shape": "circle", "filled": false, "stroke": "#131722", "strokeWidth": 1.2, "opacity": 1, "size": 38, "clip": false},
      "encoding": {
        "x": {"field": "time", "type": "temporal"},
        "y": {"field": "price", "type": "quantitative"}
      }
    },
    {
      "data": {"name": "titleText"},
      "mark": {"type": "text", "align": "left", "baseline": "middle", "font": "Noto Sans, Noto Sans CJK KR", "fontSize": 23, "color": "#131722", "clip": false},
      "encoding": {
        "x": {"field": "time", "type": "temporal"},
        "y": {"field": "price", "type": "quantitative"},
        "text": {"field": "text"}
      }
    },
    {
      "data": {"name": "headerText"},
      "mark": {"type": "text", "align": "left", "baseline": "middle", "font": "DejaVu Sans, Noto Sans CJK KR", "clip": false},
      "encoding": {
        "x": {"field": "time", "type": "temporal"},
        "y": {"field": "price", "type": "quantitative"},
        "text": {"field": "text"},
        "color": {"field": "kind", "type": "nominal", "scale": {"domain": ["count", "ohlcKey", "ohlcValue", "unit"], "range": ["#131722", "#131722", "#ff0018", "#131722"]}, "legend": null},
        "size": {"field": "kind", "type": "nominal", "scale": {"domain": ["count", "ohlcKey", "ohlcValue", "unit"], "range": [19, 16, 16.4, 15]}, "legend": null}
      }
    },
    {
      "data": {"name": "bands"},
      "mark": {"type": "rect", "fill": "#ebebeb", "clip": false},
      "encoding": {
        "x": {"field": "x0", "type": "temporal"},
        "x2": {"field": "x1"},
        "y": {"field": "top", "type": "quantitative"},
        "y2": {"field": "bottom"}
      }
    }
  ]
}
